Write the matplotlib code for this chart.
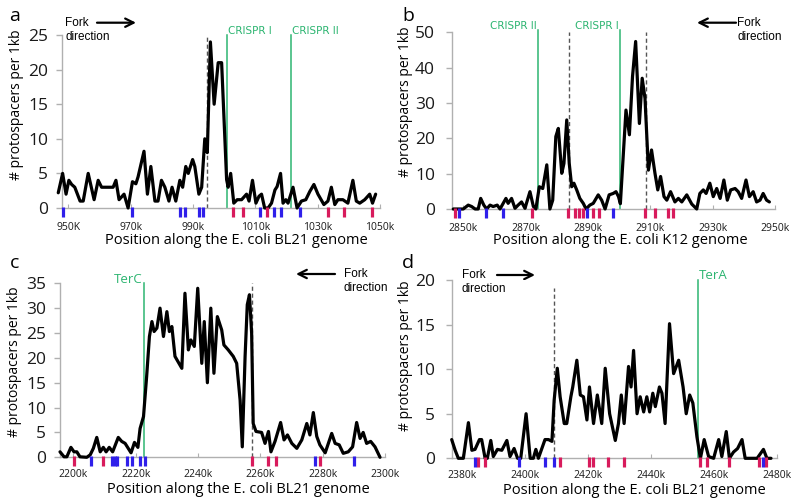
import matplotlib
matplotlib.use("Agg")
import matplotlib.pyplot as plt

plt.rcParams['font.family'] = ['Open Sans', 'DejaVu Sans']

# ---- panel a : E. coli BL21, around the CRISPR loci ----
a_pos = [946.8, 948.2, 949.3, 950.2, 951.1, 952.1, 953.8, 954.8, 956.4, 958.3,
         959.6, 960.7, 962.5, 964.4, 965.3, 966.3, 967.9, 969.2, 970.6, 971.7,
         972.4, 974.3, 975.4, 976.5, 977.8, 978.8, 979.9, 981.0, 982.3, 983.3,
         984.5, 985.8, 986.7, 987.7, 988.5, 989.9, 990.6, 991.9, 992.8, 993.8,
         994.6, 995.6, 996.8, 998.1, 999.2, 1000.8, 1001.3, 1002.1, 1003.1, 1004.2,
         1005.6, 1007.2, 1008.0, 1009.1, 1010.2, 1011.2, 1012.0, 1013.0, 1014.1, 1015.2,
         1016.3, 1017.0, 1018.1, 1018.9, 1019.8, 1020.5, 1022.1, 1023.4, 1024.8, 1026.2,
         1027.5, 1028.8, 1030.1, 1032.0, 1033.3, 1034.4, 1035.5, 1036.5, 1038.1, 1039.7,
         1041.3, 1042.4, 1043.5, 1045.1, 1046.7, 1047.6, 1048.6]
a_val = [2.2, 5, 2, 4, 3.4, 3, 1, 1, 5, 1.2,
         4, 3, 3, 3, 4, 1.2, 2, 0, 3.8, 3.5,
         4.5, 8.2, 2, 6, 1, 1, 4, 3, 1, 3,
         1, 4, 3, 6, 5, 7, 6, 2, 3, 10,
         8, 24, 15, 21, 21, 4.1, 3, 5, 0.7, 1.2,
         1.2, 2, 1, 4, 0.7, 1.7, 2, 0, 0, 0.7,
         2.6, 3.1, 5, 0.7, 1.2, 0.7, 3, 0, 1, 1.2,
         2.4, 3.4, 2, 0.5, 1, 3, 0.5, 1.2, 1.2, 0.7,
         4, 1, 0.7, 1.2, 2, 0.7, 2]
a_red = [1002.9, 1005.9, 1013.8, 1033.3, 1038.3, 1047.4]
a_blue = [948.2, 970.3, 985.8, 987.5, 992.0, 993.3, 1011.6, 1016.0, 1018.2, 1024.3]
a_ticks = [950, 970, 990, 1010, 1030, 1050]
a_ticklabels = ['950K', '970k', '990k', '1010k', '1030k', '1050k']
a_green = [(1000.8, 'CRISPR I'), (1021.3, 'CRISPR II')]
a_dashed = [994.6]

# ---- panel b : E. coli K12, around the CRISPR loci ----
b_pos = [2846.8, 2850.0, 2851.6, 2852.7, 2853.8, 2854.8, 2855.6, 2856.6, 2857.5, 2858.6,
         2859.6, 2860.9, 2861.8, 2863.7, 2864.4, 2865.5, 2866.6, 2867.6, 2868.7, 2869.8,
         2871.4, 2872.5, 2873.3, 2874.4, 2875.5, 2876.8, 2877.8, 2878.7, 2879.7, 2880.5,
         2881.6, 2882.3, 2883.2, 2884.0, 2884.8, 2885.5, 2886.4, 2887.4, 2888.5, 2889.4,
         2890.6, 2891.7, 2893.3, 2894.4, 2895.5, 2896.8, 2898.1, 2899.0, 2899.8, 2900.4,
         2901.3, 2902.2, 2903.3, 2904.3, 2905.3, 2906.5, 2907.4, 2908.3, 2909.4, 2910.4,
         2911.5, 2912.4, 2913.3, 2914.4, 2915.3, 2916.5, 2917.9, 2919.0, 2920.1, 2921.7,
         2923.3, 2924.9, 2925.9, 2927.0, 2927.9, 2929.1, 2930.2, 2931.3, 2932.4, 2933.6,
         2934.7, 2935.8, 2937.2, 2938.2, 2939.3, 2940.7, 2941.8, 2943.0, 2944.1, 2945.2,
         2946.2, 2947.3, 2948.2]
b_val = [0, 0, 1.1, 0.7, 0, 0, 3, 1.1, 0, 1.1,
         0.7, 1.1, 0, 3, 1.6, 3, 0.2, 1.1, 2, 0.2,
         4.9, 0.7, 0, 6.3, 5.8, 12.5, 0, 2.5, 20.5, 22.8,
         10.1, 12.9, 25.2, 12.9, 6.3, 7.3, 5.4, 3, 1.6, 0,
         1.1, 1.6, 4, 2.5, 0, 4, 4.4, 4.9, 3.5, 1.5,
         14.8, 28, 21, 37.5, 47.4, 24.2, 37, 31.3, 11, 16.7,
         10.1, 5.4, 9.2, 3.5, 2.5, 4.9, 2, 3, 2, 4,
         1.4, 0, 4.4, 5.4, 4.4, 7.3, 3.5, 5.8, 3, 8.2,
         2.5, 5.4, 5.8, 4.9, 3, 8.2, 3.5, 4.9, 2, 2.5,
         4.4, 2.5, 2]
b_red = [2847.3, 2871.9, 2883.7, 2885.9, 2887.1, 2888.3, 2891.7, 2893.5,
         2908.3, 2911.5, 2915.8, 2917.4]
b_blue = [2848.7, 2857.3, 2862.6, 2889.6, 2898.1]
b_ticks = [2850, 2870, 2890, 2910, 2930, 2950]
b_ticklabels = ['2850k', '2870k', '2890k', '2910k', '2930k', '2950k']
b_green = [(2873.9, 'CRISPR II'), (2900.3, 'CRISPR I')]
b_dashed = [2884.0, 2908.5]

# ---- panel c : E. coli BL21, around TerC ----
c_pos = [2195.7, 2197.0, 2197.9, 2199.2, 2200.2, 2201.1, 2202.1, 2204.3, 2205.4, 2206.4,
         2207.5, 2208.6, 2209.6, 2210.5, 2211.5, 2212.6, 2214.4, 2215.5, 2216.6, 2218.5,
         2219.6, 2220.7, 2221.4, 2222.5, 2223.5, 2224.4, 2225.2, 2225.9, 2226.8, 2227.8,
         2228.9, 2230.0, 2230.8, 2231.6, 2232.6, 2234.8, 2235.8, 2236.9, 2237.7, 2238.8,
         2239.9, 2241.2, 2242.0, 2243.0, 2244.1, 2245.1, 2246.2, 2247.6, 2248.3, 2249.7,
         2251.3, 2252.4, 2253.5, 2254.2, 2255.1, 2255.8, 2256.5, 2257.2, 2257.7, 2258.6,
         2260.4, 2261.5, 2262.6, 2263.4, 2264.7, 2266.5, 2267.6, 2268.7, 2270.1, 2271.7,
         2273.3, 2274.9, 2275.9, 2277.0, 2278.1, 2279.1, 2280.8, 2282.9, 2284.0, 2285.3,
         2286.6, 2288.2, 2289.6, 2290.9, 2292.0, 2293.0, 2294.1, 2295.4, 2296.8, 2298.4]
c_val = [1.1, 0.1, 0.1, 2, 1.1, 1.1, 0.1, 0, 0.5, 1.8,
         4, 1.1, 2, 1.1, 2, 1.1, 4, 3.2, 2.8, 0.9,
         3, 2, 5.8, 8.2, 16.2, 24.3, 27.3, 25.3, 26, 30,
         24.3, 29.3, 25.3, 26.3, 20.3, 17.9, 33, 21.6, 23.6, 22.3,
         34, 18.9, 27.3, 15, 30, 16.9, 28.3, 25.6, 22.6, 21.6,
         20.3, 18.9, 11.5, 2.1, 20.3, 30.7, 32.7, 25, 6.8, 5.2,
         5, 2.8, 5.2, 1.1, 3.2, 7, 3.5, 4.5, 2.8, 1.8,
         3.5, 6.8, 4.5, 9, 4.2, 2.5, 0.9, 4.8, 2.8, 2.5,
         0.8, 1.1, 2.1, 7, 3.8, 5, 2.8, 3.2, 2.1, 0]
c_red = [2200.2, 2209.4, 2257.4, 2262.6, 2265.0, 2279.1]
c_blue = [2205.6, 2212.3, 2213.2, 2214.1, 2217.3, 2218.7, 2221.4, 2223.0, 2277.5, 2290.2]
c_ticks = [2200, 2220, 2240, 2260, 2280, 2300]
c_ticklabels = ['2200k', '2220k', '2240k', '2260k', '2280k', '2300k']
c_green = [(2222.7, 'TerC')]
c_dashed = [2257.4]

# ---- panel d : E. coli BL21, around TerA ----
d_pos = [2376.8, 2377.9, 2378.9, 2380.5, 2382.1, 2383.2, 2384.2, 2385.6, 2386.3, 2387.4,
         2388.1, 2389.2, 2390.0, 2391.3, 2392.7, 2394.3, 2395.3, 2396.6, 2397.7, 2398.7,
         2400.4, 2401.7, 2402.7, 2403.5, 2404.3, 2406.4, 2407.5, 2408.6, 2409.3, 2410.3,
         2411.2, 2412.5, 2413.3, 2414.6, 2415.2, 2416.5, 2417.6, 2418.6, 2419.7, 2420.5,
         2421.8, 2423.0, 2424.4, 2425.5, 2426.9, 2428.7, 2429.7, 2430.6, 2431.5, 2432.9,
         2433.7, 2434.5, 2435.6, 2436.6, 2437.7, 2438.7, 2439.6, 2440.6, 2441.4, 2442.7,
         2443.5, 2444.5, 2445.9, 2447.2, 2448.8, 2450.2, 2451.2, 2452.3, 2453.3, 2454.6,
         2455.7, 2456.9, 2458.3, 2459.9, 2461.5, 2462.5, 2463.9, 2464.9, 2466.2, 2467.5,
         2468.9, 2469.9, 2473.7, 2475.7, 2476.8, 2478.1]
d_val = [2.1, 0.9, 0, 0, 4, 0.9, 1, 2.1, 2.1, 0,
         0, 2, 0.2, 1, 0.9, 2, 0.2, 1.1, 0, 0,
         5, 0, 0, 1, 0, 2.1, 2.1, 1.9, 6.5, 10.1,
         6.9, 3.9, 3.9, 6.9, 8, 11, 7.1, 6.9, 4.3, 8,
         3.9, 7.1, 3.9, 10.1, 5, 2, 3.9, 7.1, 3.9, 10.3,
         8, 12.1, 5, 6.9, 5.2, 6.9, 5.2, 7.3, 5.8, 8,
         7.3, 3.9, 15.1, 9.5, 11, 8, 5, 7.1, 6.2, 2.4,
         0, 2.1, 0.2, 0, 2.1, 0.2, 3, 0, 0.7, 1.1,
         2.1, 0, 0, 1, 0, 0]
d_red = [2385.3, 2387.4, 2411.0, 2420.5, 2421.6, 2426.5, 2431.5, 2455.7, 2457.8,
         2464.9, 2474.2, 2476.6]
d_blue = [2384.2, 2398.3, 2406.4, 2409.3, 2475.6]
d_ticks = [2380, 2400, 2420, 2440, 2460, 2480]
d_ticklabels = ['2380k', '2400k', '2420k', '2440k', '2460k', '2480k']
d_green = [(2454.9, 'TerA')]
d_dashed = [2409.3]

W, H = 800, 499
GREEN = '#2db571'
RED = '#d81b5c'
BLUE = '#2f1fea'
AXIS = '#b0b0b0'

fig = plt.figure(figsize=(W / 100, H / 100), dpi=100)


def fpos(x, y):
    return (x / W, 1 - y / H)


def make_panel(x0, x1, ybot, ytop, xlim, ymax, ystep, pos, val, ticks, ticklabels,
               red, blue, dashed, dashed_top, genome, ylab_xy, xlab_xy, xpad, ypad):
    ax = fig.add_axes([x0 / W, 1 - ybot / H, (x1 - x0) / W, (ybot - ytop) / H])
    hpx = ybot - ytop
    ax.set_xlim(*xlim)
    ax.set_ylim(0, ymax)
    for s in ['top', 'right']:
        ax.spines[s].set_visible(False)
    for s in ['left', 'bottom']:
        ax.spines[s].set_color(AXIS)
        ax.spines[s].set_linewidth(1)
    ax.set_yticks(range(0, ymax + 1, ystep))
    ax.tick_params(axis='y', direction='out', length=4, width=1, color=AXIS,
                   labelsize=12.5, pad=ypad, labelcolor='#1a1a1a')
    ax.set_xticks(ticks)
    ax.set_xticklabels(ticklabels)
    ax.tick_params(axis='x', direction='in', length=3, width=0.8, color=AXIS,
                   labelsize=7.5, pad=xpad, labelcolor='#1a1a1a')

    # protospacer marks under the axis
    xt = ax.get_xaxis_transform()
    ax.vlines(red, -9 / hpx, 1 / hpx, colors=RED, lw=2.3, transform=xt, clip_on=False, zorder=4)
    ax.vlines(blue, -9 / hpx, 1 / hpx, colors=BLUE, lw=2.3, transform=xt, clip_on=False, zorder=4)

    for xd in dashed:
        ax.plot([xd, xd], [0, dashed_top], color='#555555', lw=1, ls=(0, (3, 2)),
                clip_on=False, zorder=2)

    ax.plot(pos, val, color='black', lw=2.3, solid_joinstyle='round',
            solid_capstyle='round', clip_on=False, zorder=3)

    ax.set_ylabel('# protospacers per 1kb', fontsize=10)
    ax.yaxis.set_label_coords(*ylab_xy)
    ax.set_xlabel('Position along the E. coli %s genome' % genome, fontsize=10.5)
    ax.xaxis.set_label_coords(*xlab_xy)
    return ax


def green_line(ax, x, top, label, side, fs, family):
    ax.plot([x, x], [0, top], color=GREEN, lw=1.1, clip_on=False, zorder=2)
    off = 1.0 if side == 'left' else -1.0
    ax.annotate(label, xy=(x, top), xytext=(off, 0.5), textcoords='offset points',
                ha=side, va='baseline', color=GREEN, fontsize=fs, family=family,
                annotation_clip=False)


def fork(xt, yt, x_start, x_end, ya):
    fig.text(*fpos(xt, yt), 'Fork', fontsize=8.5, family=['Liberation Sans', 'DejaVu Sans'],
             va='center', ha='left')
    fig.text(*fpos(xt, yt + 14), 'direction', fontsize=8.5,
             family=['Liberation Sans', 'DejaVu Sans'], va='center', ha='left')
    ax0 = fig.axes[0]
    ax0.annotate('', xy=fpos(x_end, ya), xytext=fpos(x_start, ya),
                 xycoords='figure fraction', textcoords='figure fraction',
                 arrowprops=dict(arrowstyle='->,head_length=0.6,head_width=0.3',
                                 lw=1.6, color='black', shrinkA=0, shrinkB=0))


narrow = ['Liberation Sans Narrow', 'DejaVu Sans']

ax_a = make_panel(62, 380, 208, 35, (948, 1050), 25, 5, a_pos, a_val, a_ticks, a_ticklabels,
                  a_red, a_blue, a_dashed, 24.8, 'BL21', (-0.12, 0.60), (0.547, -0.145), 10, 6)
for x, lab in a_green:
    green_line(ax_a, x, 25, lab, 'left', 7.5, narrow)

ax_b = make_panel(451.7, 775, 209, 32.3, (2846.3, 2950), 50, 10, b_pos, b_val, b_ticks,
                  b_ticklabels, b_red, b_blue, b_dashed, 50.2, 'K12', (-0.119, 0.607),
                  (0.52, -0.136), 10, 8)
for x, lab in b_green:
    green_line(ax_b, x, 50.6, lab, 'right', 7.5, narrow)

ax_c = make_panel(60, 385, 457.3, 283.3, (2195.7, 2300), 35, 5, c_pos, c_val, c_ticks,
                  c_ticklabels, c_red, c_blue, c_dashed, 35, 'BL21', (-0.116, 0.55),
                  (0.55, -0.142), 8.5, 6)
for x, lab in c_green:
    green_line(ax_c, x, 35, lab, 'right', 9.5, ['Open Sans', 'DejaVu Sans'])

ax_d = make_panel(451.7, 777, 458.3, 280, (2376.8, 2480), 20, 5, d_pos, d_val, d_ticks,
                  d_ticklabels, d_red, d_blue, d_dashed, 19.06, 'BL21', (-0.118, 0.575),
                  (0.562, -0.14), 8.5, 8)
for x, lab in d_green:
    green_line(ax_d, x, 20, lab, 'left', 9.5, ['Open Sans', 'DejaVu Sans'])

# panel letters
for lx, ly, letter in [(15, 16, 'a'), (408, 16, 'b'), (15, 263, 'c'), (408, 263, 'd')]:
    fig.text(*fpos(lx, ly), letter, fontsize=14, ha='center', va='center')

# replication fork direction arrows
fork(65, 22.7, 97, 136, 22.7)
fork(737, 22.7, 736, 697, 22.7)
fork(344, 274, 335, 296, 274)
fork(462, 275, 497, 535, 275)

fig.savefig('out.png', dpi=100)
